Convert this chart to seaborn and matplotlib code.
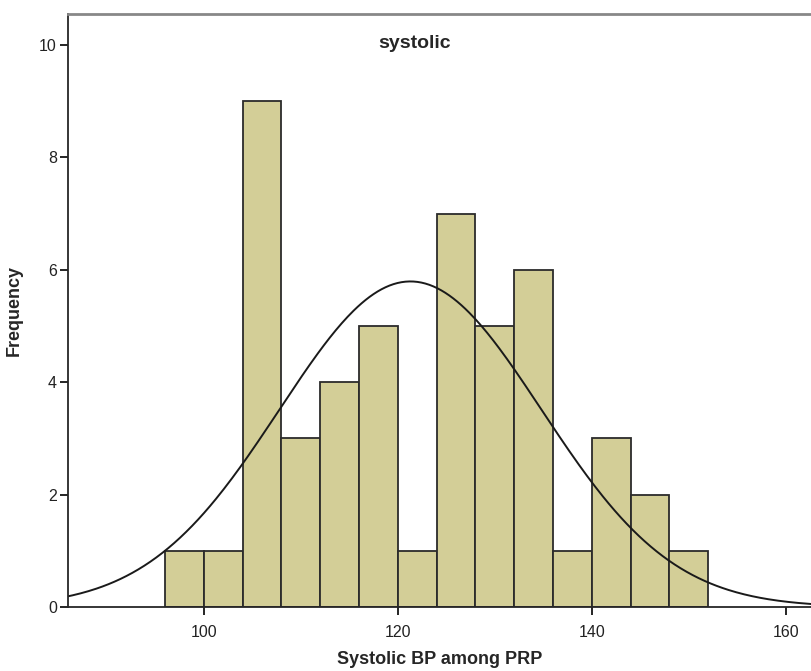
import numpy as np
import pandas as pd
import matplotlib
matplotlib.use("Agg")
import matplotlib.pyplot as plt
import seaborn as sns

# histogram bins (width 4) and counts
bin_edges = [96, 100, 104, 108, 112, 116, 120, 124, 128, 132, 136, 140, 144, 148, 152]
counts = [1, 1, 9, 3, 4, 5, 1, 7, 5, 6, 1, 3, 2, 1]

# normal curve parameters (SPSS overlay)
mean_bp = 121.3
sd_bp = 13.5
n_obs = sum(counts)
bin_width = 4

sns.set_style("ticks")
plt.rcParams['font.family'] = ['Liberation Sans', 'DejaVu Sans']

mids = [(a + b) / 2 for a, b in zip(bin_edges[:-1], bin_edges[1:])]
df = pd.DataFrame({'systolic': mids, 'freq': counts})

fig = plt.figure(figsize=(8.12, 6.71), dpi=100)
ax = fig.add_axes([68 / 812, 1 - 607 / 671, 1 - 68 / 812, (607 - 14) / 671])

sns.histplot(data=df, x='systolic', weights='freq', bins=bin_edges,
             color='#D3CE97', edgecolor='#2b2b2b', linewidth=1.3, alpha=1, ax=ax)

xs = np.linspace(84, 166, 400)
ys = n_obs * bin_width / (sd_bp * np.sqrt(2 * np.pi)) * np.exp(-0.5 * ((xs - mean_bp) / sd_bp) ** 2)
sns.lineplot(x=xs, y=ys, color='#1a1a1a', linewidth=1.4, ax=ax)

ax.set_xlim(86, 162.7)
ax.set_ylim(0, 10.55)
ax.set_xticks([100, 120, 140, 160])
ax.set_yticks([0, 2, 4, 6, 8, 10])
ax.tick_params(axis='both', labelsize=11.5, length=6, width=1.2, color='black', labelcolor='#222222')
ax.tick_params(axis='x', pad=7)
ax.tick_params(axis='y', pad=2)

ax.spines['right'].set_visible(False)
ax.spines['top'].set_color('#888888')
ax.spines['top'].set_linewidth(2)
ax.spines['left'].set_linewidth(1.3)
ax.spines['bottom'].set_linewidth(1.3)

ax.set_xlabel('Systolic BP among PRP', fontsize=13, fontweight='bold', labelpad=8)
ax.set_ylabel('Frequency', fontsize=13, fontweight='bold', labelpad=12)
ax.text(0.466, 0.951, 'systolic', transform=ax.transAxes, ha='center', va='center',
        fontsize=14, fontweight='bold')

fig.savefig('out.png', dpi=100)
